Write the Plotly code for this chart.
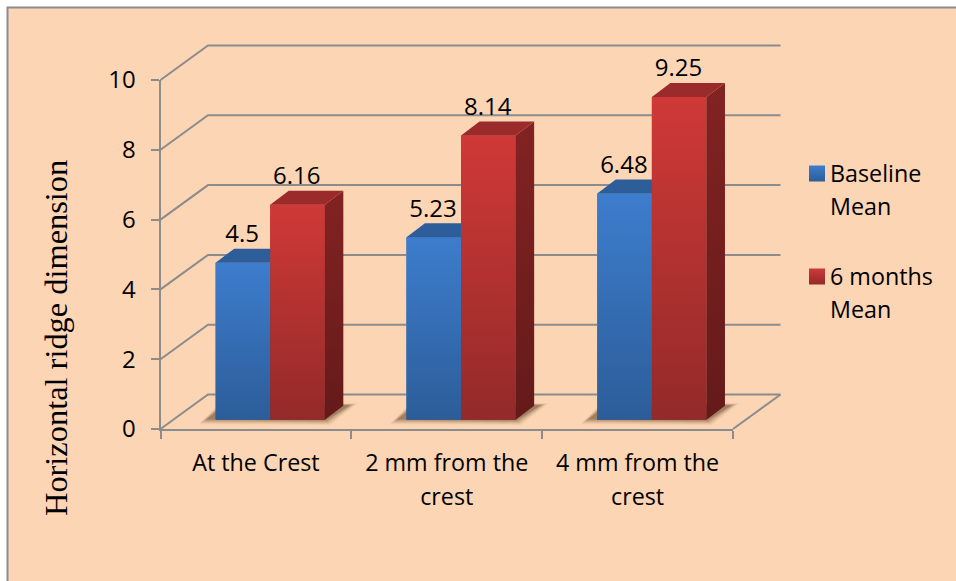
import plotly.graph_objects as go

# Chart data
categories = ["At the Crest", "2 mm from the<br>crest", "4 mm from the<br>crest"]
baseline_mean = [4.5, 5.23, 6.48]
six_month_mean = [6.16, 8.14, 9.25]
y_ticks = [0, 2, 4, 6, 8, 10]
series_names = ["Baseline<br>Mean", "6 months<br>Mean"]

# Frame geometry in screen pixels
W, H = 956, 581
PLOT_L, PLOT_R, PLOT_T, PLOT_B = 160.5, 733.0, 80.0, 429.0
PX_X = (PLOT_R - PLOT_L) / 3
PX_Y = (PLOT_B - PLOT_T) / 10


def dx(px):
    return px / PX_X


def dy(px):
    return px / PX_Y


def sx(px):
    return (px - PLOT_L) / PX_X - 0.5


def sy(px):
    return (PLOT_B - px) / PX_Y


def paper_x(px):
    return px / W


def paper_y(px):
    return 1 - px / H


# Oblique projection settings
WALL_X, WALL_Y = dx(47.5), dy(34.5)
DEPTH_X, DEPTH_Y = dx(18.5), dy(14)
BAR_BASE = dy(9.3)
BAR_W = dx(54.6)
BLUE_OFFSET = dx(215.6 - 255.9)
RED_OFFSET = BLUE_OFFSET + BAR_W

GRID = "#8c8c8c"
INK = "#000000"
FONT = "Open Sans"
FS = 23.3
FS_NUM = 24

STYLES = [
    dict(bottom="#2c5d99", top="#3d7dcd", mid="#3570b5",
         cap="#2d5e9a", side_b="#1f4470", side_t="#27548a"),
    dict(bottom="#932a29", top="#cf3937", mid="#b33230",
         cap="#9a2b2a", side_b="#651a1a", side_t="#822322"),
]


def sized(text, px):
    return "<br>".join(
        f'<span style="font-size:{px}px">{line}</span>' for line in text.split("<br>")
    )


fig = go.Figure()

# Front faces of the bars on the main axes
for values, offset, st, name in (
    (baseline_mean, BLUE_OFFSET, STYLES[0], series_names[0]),
    (six_month_mean, RED_OFFSET, STYLES[1], series_names[1]),
):
    fig.add_trace(go.Bar(x=list(range(len(values))), y=values, base=BAR_BASE, width=BAR_W,
                         offset=offset, marker=dict(color=st["mid"], line=dict(width=0)),
                         name=name.replace("<br>", " "), showlegend=False, hoverinfo="skip"))

# Everything projected off the front plane goes on a full-page overlay with the same scale
OVER = dict(xaxis="x2", yaxis="y2", hoverinfo="skip", showlegend=False)

# Back wall gridlines and the diagonals running out to the axis
gx, gy = [], []
for v in y_ticks:
    gx += [-0.5, -0.5 + WALL_X, 2.5 + WALL_X, None]
    gy += [v, v + WALL_Y, v + WALL_Y, None]
gx += [2.5, 2.5 + WALL_X]
gy += [0, WALL_Y]
fig.add_trace(go.Scatter(x=gx, y=gy, mode="lines", line=dict(color=GRID, width=2), **OVER))


def poly(xs, ys, **kw):
    fig.add_trace(go.Scatter(x=xs + xs[:1], y=ys + ys[:1], mode="lines", fill="toself",
                             line=dict(width=0), **OVER, **kw))


# Soft floor shadow under each bar pair, built from stacked translucent layers
for i in range(len(categories)):
    left = i + BLUE_OFFSET
    right = i + RED_OFFSET + BAR_W
    for grow, alpha in ((2.5, 0.05), (1.5, 0.07), (0.5, 0.1), (-0.5, 0.13), (-1.5, 0.17), (-2.5, 0.2)):
        poly(
            [left - dx(13 + grow * 1.6), right + dx(3 + grow), right + dx(29 + grow * 1.6),
             left + dx(20), left],
            [BAR_BASE - dy(2 + grow), BAR_BASE - dy(3 + grow), BAR_BASE + dy(15.5 + grow * 0.4),
             BAR_BASE + dy(15.5), BAR_BASE + dy(10 + grow)],
            fillcolor=f"rgba(85,55,28,{alpha})",
        )

# Shaded front, side and top faces of each bar
for values, offset, st in (
    (baseline_mean, BLUE_OFFSET, STYLES[0]),
    (six_month_mean, RED_OFFSET, STYLES[1]),
):
    for i, v in enumerate(values):
        x0 = i + offset
        x1 = x0 + BAR_W
        top = BAR_BASE + v
        poly([x0, x1, x1, x0], [BAR_BASE, BAR_BASE, top, top],
             fillgradient=dict(type="vertical",
                               colorscale=[[0, st["bottom"]], [1, st["top"]]]))
        poly([x1, x1 + DEPTH_X, x1 + DEPTH_X, x1],
             [BAR_BASE, BAR_BASE + DEPTH_Y, top + DEPTH_Y, top],
             fillgradient=dict(type="vertical",
                               colorscale=[[0, st["side_b"]], [1, st["side_t"]]]))
        poly([x0, x1, x1 + DEPTH_X, x0 + DEPTH_X], [top, top, top + DEPTH_Y, top + DEPTH_Y],
             fillcolor=st["cap"])

# Value labels above each bar
for values, offset in ((baseline_mean, BLUE_OFFSET), (six_month_mean, RED_OFFSET)):
    fig.add_trace(go.Scatter(
        x=[i + offset + BAR_W / 2 - dx(0.7) for i in range(len(values))],
        y=[v + BAR_BASE + dy(26.5) for v in values],
        mode="text", text=[str(v) for v in values], textposition="middle center",
        textfont=dict(family=FONT, size=FS_NUM, color=INK), **OVER,
    ))

# Legend swatches and labels
LEG_SWATCH_X = 817.0
LEG_TEXT_X = 827.5
for name, st, swatch_y, text_y in (
    (series_names[0], STYLES[0], 173.5, 189.5),
    (series_names[1], STYLES[1], 276.5, 292.0),
):
    fig.add_trace(go.Scatter(
        x=[sx(LEG_SWATCH_X)], y=[sy(swatch_y)], mode="markers",
        marker=dict(symbol="square", size=16, color=st["top"], line=dict(width=0),
                    gradient=dict(type="vertical", color=st["bottom"])),
        **OVER,
    ))
    fig.add_annotation(x=paper_x(LEG_TEXT_X), y=paper_y(text_y), xref="paper", yref="paper",
                       text=sized(name, FS), showarrow=False, xanchor="left", yanchor="middle",
                       align="left", font=dict(family=FONT, size=25.4, color=INK))

# Axis title
fig.add_annotation(x=paper_x(56), y=paper_y(338), xref="paper", yref="paper",
                   text="Horizontal ridge dimension", textangle=-90, showarrow=False,
                   xanchor="center", yanchor="middle",
                   font=dict(family="Liberation Serif", size=32.4, color=INK))

# Chart area background with its thin frame on the top and left
fig.add_shape(type="rect", layer="below", xref="paper", yref="paper",
              x0=paper_x(7.5), x1=paper_x(W + 5), y0=paper_y(H + 5), y1=paper_y(7.5),
              fillcolor="#fcd5b5", line=dict(color=GRID, width=2))

fig.update_layout(
    width=W, height=H, autosize=False,
    margin=dict(l=0, r=0, t=0, b=0, pad=0, autoexpand=False),
    paper_bgcolor="white", plot_bgcolor="rgba(0,0,0,0)",
    barmode="overlay", showlegend=False,
    font=dict(family=FONT, size=FS, color=INK),
    xaxis=dict(
        domain=[PLOT_L / W, PLOT_R / W], anchor="y",
        range=[-0.5, 2.5], showgrid=False, zeroline=False, showline=True,
        linecolor=GRID, linewidth=2, tickmode="array", tickvals=[0, 1, 2],
        ticktext=[sized(c, FS) for c in categories], ticks="outside", ticklen=9,
        tickcolor="rgba(0,0,0,0)", tickfont=dict(family=FONT, size=26, color=INK),
        minor=dict(tickmode="array", tickvals=[-0.5, 0.5, 1.5, 2.5], ticks="outside",
                   ticklen=8, tickwidth=2, tickcolor=GRID, showgrid=False),
    ),
    yaxis=dict(
        domain=[1 - PLOT_B / H, 1 - PLOT_T / H], anchor="x",
        range=[0, 10], showgrid=False, zeroline=False, showline=True,
        linecolor=GRID, linewidth=2, tickmode="array", tickvals=y_ticks,
        ticks="outside", ticklen=8, tickwidth=2, tickcolor=GRID, ticklabelstandoff=10,
        tickfont=dict(family=FONT, size=FS_NUM, color=INK),
    ),
    xaxis2=dict(domain=[0, 1], anchor="y2", range=[sx(0), sx(W)], visible=False),
    yaxis2=dict(domain=[0, 1], anchor="x2", range=[sy(H), sy(0)], visible=False),
)

fig.write_html("out.html")
